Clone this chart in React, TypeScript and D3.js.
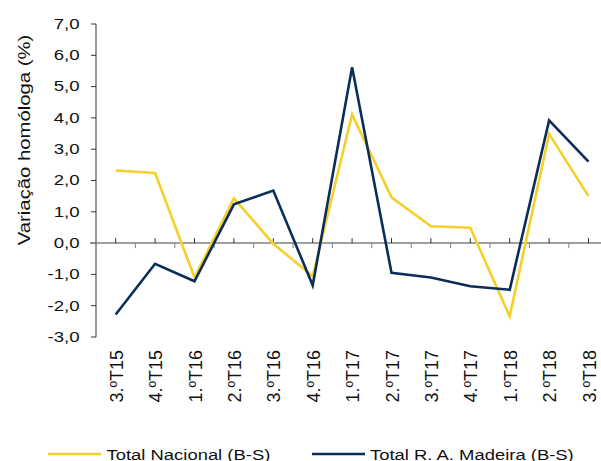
import React, { useRef, useEffect } from "react";
import * as d3 from "d3";

const categories = [
  "3.ºT15", "4.ºT15", "1.ºT16", "2.ºT16", "3.ºT16", "4.ºT16", "1.ºT17",
  "2.ºT17", "3.ºT17", "4.ºT17", "1.ºT18", "2.ºT18", "3.ºT18",
];
const totalNacional = [2.32, 2.24, -1.1, 1.43, -0.02, -1.06, 4.11, 1.46, 0.54, 0.49, -2.34, 3.49, 1.5];
const totalMadeira = [-2.28, -0.66, -1.22, 1.24, 1.68, -1.35, 5.62, -0.95, -1.1, -1.38, -1.49, 3.92, 2.6];
const yTicks = [7, 6, 5, 4, 3, 2, 1, 0, -1, -2, -3];

const series = [
  { name: "Total Nacional (B-S)", values: totalNacional, color: "#F5D02A" },
  { name: "Total R. A. Madeira (B-S)", values: totalMadeira, color: "#0B2D59" },
];

export default function App() {
  const ref = useRef<SVGSVGElement>(null);

  useEffect(() => {
    const width = 601, height = 461;
    const svg = d3.select(ref.current);
    svg.selectAll("*").remove();
    svg.attr("width", width).attr("height", height);

    const font = "Liberation Sans, Arial, sans-serif";
    const left = 96;
    const step = 39.4;
    const x = d3.scaleBand<string>()
      .domain(categories)
      .range([left, left + step * categories.length]);
    const y = d3.scaleLinear().domain([-3, 7]).range([337, 24]);
    const cx = (c: string) => (x(c) ?? 0) + x.bandwidth() / 2;

    // text stretched along its own direction, like the original export
    const label = (transform: string, txt: string, size: number, anchor = "start") => {
      svg.append("g")
        .attr("transform", transform)
        .append("text")
        .attr("text-anchor", anchor)
        .style("font-family", font).style("font-size", size + "px").style("fill", "#111")
        .text(txt);
    };

    // y axis
    svg.append("line")
      .attr("x1", left).attr("x2", left)
      .attr("y1", y(7)).attr("y2", y(-3))
      .attr("stroke", "#333").attr("stroke-width", 1);
    yTicks.forEach(t => {
      svg.append("line")
        .attr("x1", left - 5).attr("x2", left)
        .attr("y1", y(t)).attr("y2", y(t))
        .attr("stroke", "#333");
      const txt = d3.format(".1f")(t).replace(".", ",").replace("\u2212", "-");
      label(`translate(79.5,${y(t) + 4.8}) scale(1.2,1)`, txt, 15.5, "end");
    });

    // zero axis
    svg.append("line")
      .attr("x1", left - 6).attr("x2", width)
      .attr("y1", y(0)).attr("y2", y(0))
      .attr("stroke", "#808080").attr("stroke-width", 1.5);
    categories.forEach(c => {
      svg.append("line")
        .attr("x1", cx(c)).attr("x2", cx(c))
        .attr("y1", y(0) - 5).attr("y2", y(0))
        .attr("stroke", "#333");
      const bx = (x(c) ?? 0) + x.bandwidth();
      svg.append("line")
        .attr("x1", bx).attr("x2", bx)
        .attr("y1", y(0)).attr("y2", y(0) + 5)
        .attr("stroke", "#808080");
      label(`translate(${cx(c) + 7},350) rotate(-90)`, c, 18, "end");
    });

    // axis title
    label(`translate(30,140) rotate(-90) scale(1.18,1)`, "Variação homóloga (%)", 17.2, "middle");

    const line = d3.line<number>()
      .x((_, i) => cx(categories[i]))
      .y(d => y(d));

    series.forEach(s => {
      svg.append("path")
        .datum(s.values)
        .attr("d", line)
        .attr("fill", "none")
        .attr("stroke", s.color)
        .attr("stroke-width", 2.6)
        .attr("stroke-linejoin", "miter");
    });

    // legend (cut off at the bottom edge, as in the original)
    const legendPos = [{ x1: 48, x2: 101, tx: 106.5 }, { x1: 312, x2: 365, tx: 370 }];
    series.forEach((s, i) => {
      const p = legendPos[i];
      svg.append("line")
        .attr("x1", p.x1).attr("x2", p.x2)
        .attr("y1", 454).attr("y2", 454)
        .attr("stroke", s.color).attr("stroke-width", 2.6);
      label(`translate(${p.tx},459.5) scale(1.19,1)`, s.name, 15.5);
    });
  }, []);

  return (
    <div style={{ position: "absolute", left: 0, top: 0 }}>
      <svg ref={ref} style={{ display: "block" }}></svg>
    </div>
  );
}
